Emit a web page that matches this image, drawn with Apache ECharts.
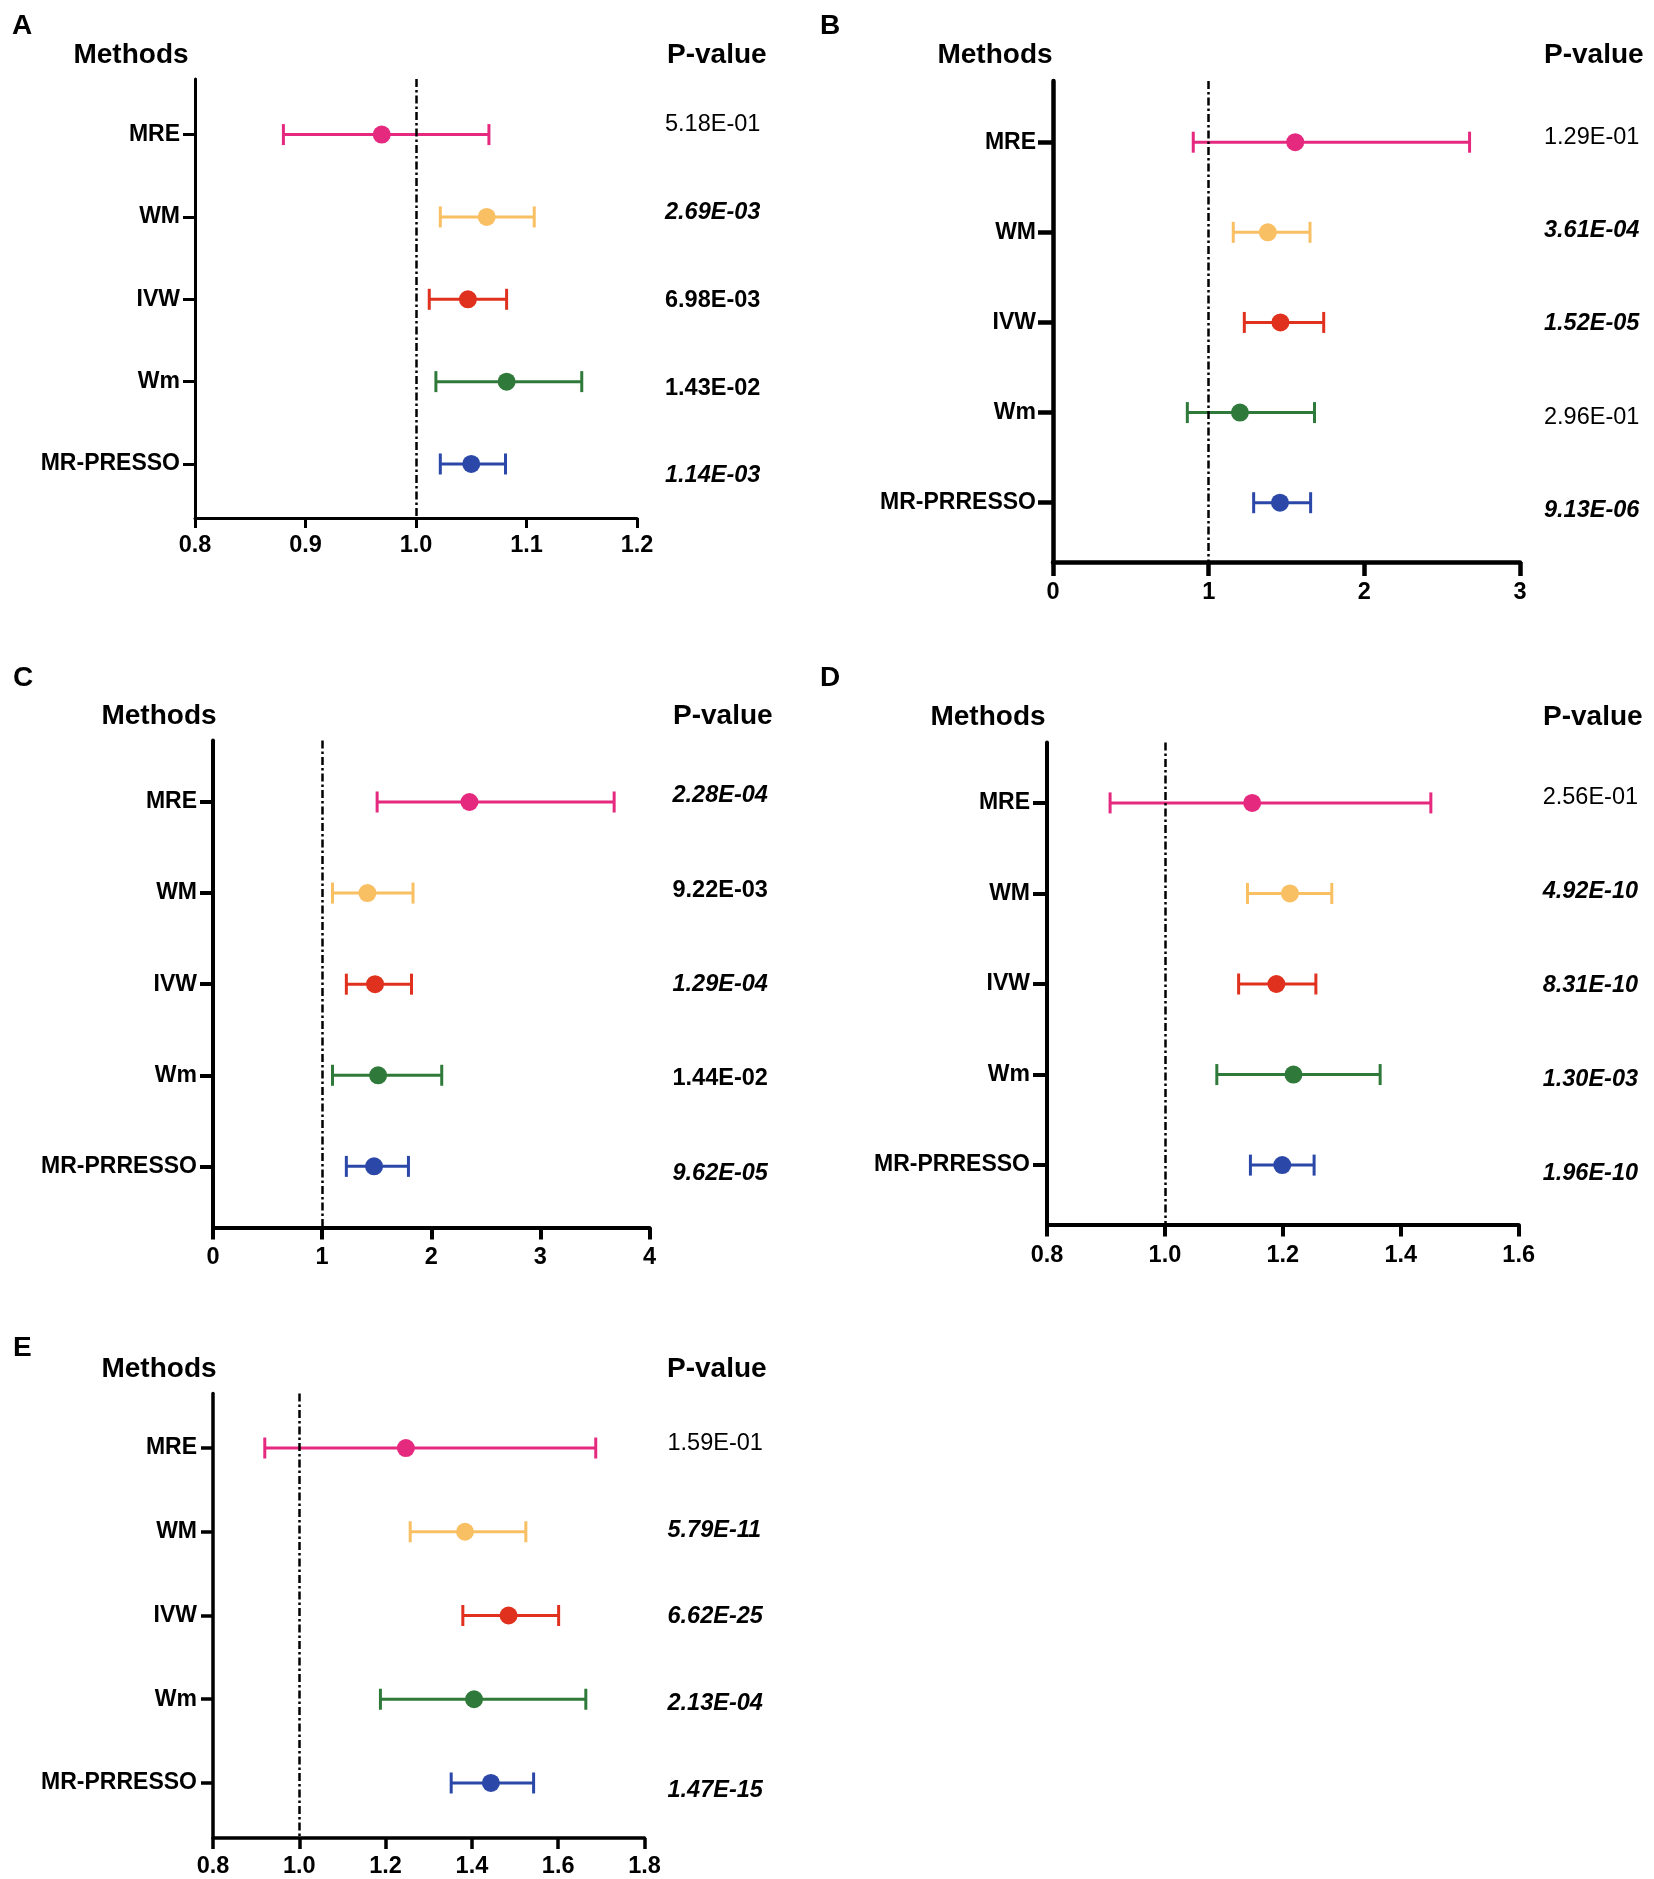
<!DOCTYPE html>
<html>
<head>
<meta charset="utf-8">
<script src="https://cdn.jsdelivr.net/npm/echarts@6/dist/echarts.min.js"></script>
<style>
html,body{margin:0;padding:0;background:#fff;}
#chart{width:1654px;height:1879px;}
</style>
</head>
<body>
<div id="chart"></div>
<script>
// ---------- DATA ----------
const methodsA = ['MRE', 'WM', 'IVW', 'Wm', 'MR-PRESSO'];
const methodsBE = ['MRE', 'WM', 'IVW', 'Wm', 'MR-PRRESSO'];
const methodColors = ['#E5297F', '#F9BF63', '#E0301E', '#2F7A3A', '#2B48A8'];

const orA   = [0.969, 1.064, 1.047, 1.082, 1.050];
const lowA  = [0.880, 1.022, 1.012, 1.018, 1.022];
const highA = [1.066, 1.107, 1.082, 1.150, 1.081];
const pA      = ['5.18E-01', '2.69E-03', '6.98E-03', '1.43E-02', '1.14E-03'];
const pStyleA = ['n', 'bi', 'b', 'b', 'bi'];
const ticksA  = [0.8, 0.9, 1.0, 1.1, 1.2];

const orB   = [1.556, 1.380, 1.461, 1.201, 1.458];
const lowB  = [0.901, 1.158, 1.229, 0.863, 1.289];
const highB = [2.676, 1.651, 1.739, 1.680, 1.655];
const pB      = ['1.29E-01', '3.61E-04', '1.52E-05', '2.96E-01', '9.13E-06'];
const pStyleB = ['n', 'bi', 'bi', 'n', 'bi'];
const ticksB  = [0, 1, 2, 3];

const orC   = [2.350, 1.415, 1.485, 1.513, 1.476];
const lowC  = [1.504, 1.095, 1.222, 1.095, 1.222];
const highC = [3.676, 1.833, 1.819, 2.096, 1.791];
const pC      = ['2.28E-04', '9.22E-03', '1.29E-04', '1.44E-02', '9.62E-05'];
const pStyleC = ['bi', 'b', 'bi', 'b', 'bi'];
const ticksC  = [0, 1, 2, 3, 4];

const orD   = [1.148, 1.212, 1.189, 1.218, 1.199];
const lowD  = [0.907, 1.140, 1.125, 1.088, 1.145];
const highD = [1.451, 1.283, 1.256, 1.365, 1.253];
const pD      = ['2.56E-01', '4.92E-10', '8.31E-10', '1.30E-03', '1.96E-10'];
const pStyleD = ['n', 'bi', 'bi', 'bi', 'bi'];
const ticksD  = [0.8, 1.0, 1.2, 1.4, 1.6];

const orE   = [1.247, 1.384, 1.485, 1.405, 1.444];
const lowE  = [0.920, 1.257, 1.379, 1.188, 1.352];
const highE = [1.687, 1.525, 1.601, 1.664, 1.543];
const pE      = ['1.59E-01', '5.79E-11', '6.62E-25', '2.13E-04', '1.47E-15'];
const pStyleE = ['n', 'bi', 'bi', 'bi', 'bi'];
const ticksE  = [0.8, 1.0, 1.2, 1.4, 1.6, 1.8];

const refValue = 1;

// ---------- LAYOUT ----------
const FONT = "'Liberation Sans', Arial, Helvetica, sans-serif";
const panels = [
  {letter:'A', cats:methodsA, or:orA, low:lowA, high:highA, p:pA, ps:pStyleA, ticks:ticksA, dec:1,
   grid:{left:195, top:79, width:442, height:439}, yMin:0.325, yMax:5.656, pMin:0.476, pMax:5.479,
   axisW:3, tickLen:10, yTickLen:12, catMargin:15, pMargin:28, xMargin:16,
   mX:131, mY:55, pvX:667, lX:12, lY:27},
  {letter:'B', cats:methodsBE, or:orB, low:lowB, high:highB, p:pB, ps:pStyleB, ticks:ticksB, dec:0,
   grid:{left:1053, top:81, width:467, height:481}, yMin:0.321, yMax:5.658, pMin:0.393, pMax:5.554,
   axisW:4.5, tickLen:14, yTickLen:15, catMargin:17, pMargin:24, xMargin:19,
   mX:995, mY:55, pvX:1544, lX:820, lY:27},
  {letter:'C', cats:methodsBE, or:orC, low:lowC, high:highC, p:pC, ps:pStyleC, ticks:ticksC, dec:0,
   grid:{left:213, top:740.5, width:436.5, height:487}, yMin:0.325, yMax:5.671, pMin:0.411, pMax:5.578,
   axisW:4, tickLen:12, yTickLen:13, catMargin:16, pMargin:23, xMargin:18,
   mX:159, mY:716, pvX:673, lX:13, lY:679},
  {letter:'D', cats:methodsBE, or:orD, low:lowD, high:highD, p:pD, ps:pStyleD, ticks:ticksD, dec:1,
   grid:{left:1047, top:742.6, width:471.7, height:482}, yMin:0.334, yMax:5.657, pMin:0.409, pMax:5.55,
   axisW:4, tickLen:12, yTickLen:14, catMargin:17, pMargin:24, xMargin:19,
   mX:988, mY:717, pvX:1543, lX:820, lY:679},
  {letter:'E', cats:methodsBE, or:orE, low:lowE, high:highE, p:pE, ps:pStyleE, ticks:ticksE, dec:1,
   grid:{left:213, top:1393.5, width:431.5, height:444.5}, yMin:0.349, yMax:5.657, pMin:0.421, pMax:5.551,
   axisW:3.5, tickLen:11, yTickLen:12, catMargin:16, pMargin:23, xMargin:16.6,
   mX:159, mY:1369, pvX:667, lX:13, lY:1349}
];

const grids = [], xAxes = [], yAxes = [], series = [], graphics = [];
const CAP = 21, BARW = 3, DOT = 18;

panels.forEach((P, i) => {
  const positions = P.cats.map((c, k) => k + 1);
  grids.push(Object.assign({containLabel:false}, P.grid));
  const interval = +(P.ticks[1] - P.ticks[0]).toFixed(6);
  xAxes.push({
    type:'value', gridIndex:i, min:P.ticks[0], max:P.ticks[P.ticks.length - 1], interval:interval,
    axisLine:{show:true, onZero:false, lineStyle:{color:'#000', width:P.axisW}},
    axisTick:{show:true, length:P.tickLen, lineStyle:{color:'#000', width:P.axisW}},
    axisLabel:{color:'#000', fontFamily:FONT, fontWeight:'bold', fontSize:23.5, lineHeight:24, margin:P.xMargin,
      formatter:(v) => (+v).toFixed(P.dec)},
    splitLine:{show:false}
  });
  yAxes.push({
    type:'value', gridIndex:i, inverse:true, min:P.yMin, max:P.yMax,
    axisLine:{show:true, onZero:false, lineStyle:{color:'#000', width:P.axisW}},
    axisTick:{show:true, length:P.yTickLen, customValues:positions, lineStyle:{color:'#000', width:P.axisW}},
    axisLabel:{show:true, customValues:positions, color:'#000', fontFamily:FONT, fontWeight:'bold', fontSize:23,
      margin:P.catMargin, formatter:(v) => P.cats[Math.round(v) - 1] || ''},
    splitLine:{show:false}
  });
  yAxes.push({
    type:'value', gridIndex:i, inverse:true, position:'right', min:P.pMin, max:P.pMax,
    axisLine:{show:false}, axisTick:{show:false}, splitLine:{show:false},
    axisLabel:{show:true, customValues:positions, margin:P.pMargin, align:'left',
      formatter:(v) => { const k = Math.round(v) - 1; return P.p[k] ? '{' + P.ps[k] + '|' + P.p[k] + '}' : ''; },
      rich:{
        n:{fontFamily:FONT, fontSize:23.5, fontWeight:'normal', color:'#000'},
        b:{fontFamily:FONT, fontSize:23.5, fontWeight:'bold', color:'#000'},
        bi:{fontFamily:FONT, fontSize:23.5, fontWeight:'bold', fontStyle:'italic', color:'#000'}
      }}
  });
  const yIdx = i * 2;
  // error bars
  series.push({
    type:'custom', xAxisIndex:i, yAxisIndex:yIdx, silent:true, z:3,
    encode:{x:[0, 1], y:2},
    data:P.cats.map((c, k) => [P.low[k], P.high[k], positions[k], k]),
    renderItem:(params, api) => {
      const lo = api.coord([api.value(0), api.value(2)]);
      const hi = api.coord([api.value(1), api.value(2)]);
      const col = methodColors[api.value(3)];
      const st = {stroke:col, lineWidth:BARW};
      const h = CAP / 2;
      return {type:'group', children:[
        {type:'line', shape:{x1:lo[0], y1:lo[1], x2:hi[0], y2:hi[1]}, style:st},
        {type:'line', shape:{x1:lo[0], y1:lo[1] - h, x2:lo[0], y2:lo[1] + h}, style:st},
        {type:'line', shape:{x1:hi[0], y1:hi[1] - h, x2:hi[0], y2:hi[1] + h}, style:st}
      ]};
    }
  });
  // point estimates
  series.push({
    type:'scatter', xAxisIndex:i, yAxisIndex:yIdx, symbol:'circle', symbolSize:DOT, silent:true, z:4,
    data:P.cats.map((c, k) => ({value:[P.or[k], positions[k]], itemStyle:{color:methodColors[k], opacity:1}})),
    markLine:{
      silent:true, symbol:['none', 'none'], label:{show:false}, animation:false, z:5,
      lineStyle:{color:'#000', width:2.5, type:[8, 3, 2.5, 3]},
      emphasis:{disabled:true},
      data:[{xAxis:refValue}]
    }
  });
  // headers
  graphics.push({type:'text', left:P.lX, top:P.lY - 15, style:{text:P.letter, font:'bold 28px ' + FONT, fill:'#000'}});
  graphics.push({type:'text', x:P.mX, y:P.mY, style:{text:'Methods', font:'bold 28px ' + FONT, fill:'#000',
    textAlign:'center', textVerticalAlign:'middle', align:'center', verticalAlign:'middle'}});
  graphics.push({type:'text', x:P.pvX, y:P.mY, style:{text:'P-value', font:'bold 28px ' + FONT, fill:'#000',
    textAlign:'left', textVerticalAlign:'middle', align:'left', verticalAlign:'middle'}});
});

const chart = echarts.init(document.getElementById('chart'), null, {renderer:'canvas'});
chart.setOption({
  backgroundColor:'#fff',
  animation:false,
  grid:grids, xAxis:xAxes, yAxis:yAxes, series:series, graphic:graphics
});
</script>
</body>
</html>
